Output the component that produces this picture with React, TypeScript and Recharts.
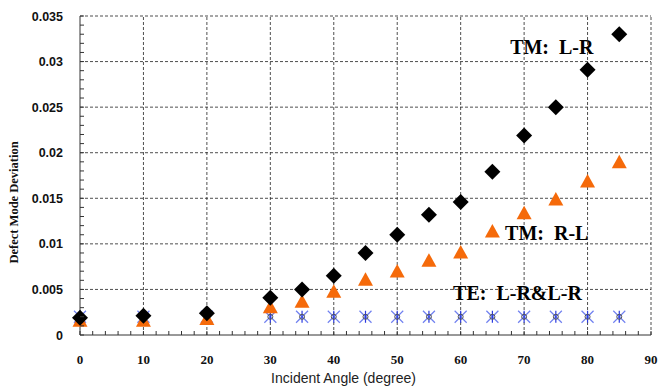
import { ScatterChart, Scatter, XAxis, YAxis, ReferenceLine, ReferenceDot } from 'recharts';

// incident angles (degree)
const angles = [0, 10, 20, 30, 35, 40, 45, 50, 55, 60, 65, 70, 75, 80, 85];
// TM: L-R (black diamonds)
const tmLR = [0.0019, 0.0021, 0.0024, 0.0041, 0.005, 0.0065, 0.009, 0.011, 0.0132, 0.0146, 0.0179, 0.0219, 0.025, 0.0291, 0.033];
// TM: R-L (orange triangles)
const tmRL = [0.0015, 0.0015, 0.0017, 0.003, 0.0036, 0.0047, 0.006, 0.0069, 0.0081, 0.009, 0.0113, 0.0133, 0.0148, 0.0168, 0.0189];
// TE: L-R & L-R (blue asterisks)
const teLR = [0.002, 0.002, 0.002, 0.002, 0.002, 0.002, 0.002, 0.002, 0.002, 0.002, 0.002, 0.002, 0.002, 0.002, 0.002];

const xMajor = [0, 10, 20, 30, 40, 50, 60, 70, 80, 90];
const yMajor = [0, 0.005, 0.01, 0.015, 0.02, 0.025, 0.03, 0.035];
const yMajorLabels = ['0', '0.005', '0.01', '0.015', '0.02', '0.025', '0.03', '0.035'];
// minor tick marks: every 2 degrees / every 0.001
const xMinor = Array.from({ length: 46 }, (_, i) => i * 2);
const yMinor = Array.from({ length: 36 }, (_, i) => i / 1000);

const toPoints = (ys: number[]) => angles.map((x, i) => ({ x, y: ys[i] }));

const Diamond = ({ cx, cy }: any) => (
  <polygon points={`${cx},${cy - 8} ${cx + 8},${cy} ${cx},${cy + 8} ${cx - 8},${cy}`} fill="#000" />
);

const Triangle = ({ cx, cy }: any) => (
  <polygon points={`${cx},${cy - 8} ${cx + 7.5},${cy + 5.5} ${cx - 7.5},${cy + 5.5}`} fill="#f56a0a" />
);

const Asterisk = ({ cx, cy }: any) => (
  <g>
    <line x1={cx - 6} y1={cy - 6} x2={cx + 6} y2={cy + 6} stroke="#7080f0" strokeWidth={1.2} />
    <line x1={cx - 6} y1={cy + 6} x2={cx + 6} y2={cy - 6} stroke="#7080f0" strokeWidth={1.2} />
    <line x1={cx} y1={cy - 6} x2={cx} y2={cy + 6} stroke="#2a3ae0" strokeWidth={1.2} />
    <circle cx={cx} cy={cy} r={2.5} fill="none" stroke="#555" strokeWidth={1} />
  </g>
);

const XTick = ({ x, y, payload }: any) => {
  const major = payload.value % 10 === 0;
  return (
    <g>
      <line x1={x} y1={y} x2={x} y2={y - 4} stroke="#333" />
      {major && (
        <text x={x} y={y + 29} textAnchor="middle" fontFamily="Liberation Serif" fontWeight="bold" fontSize={13} fill="#111">
          {payload.value}
        </text>
      )}
    </g>
  );
};

const YTick = ({ x, y, payload }: any) => {
  const idx = yMajor.findIndex((v) => Math.abs(v - payload.value) < 1e-7);
  return (
    <g>
      <line x1={x} y1={y} x2={x + 4} y2={y} stroke="#333" />
      {idx >= 0 && (
        <text x={x - 17} y={y + 4.5} textAnchor="end" fontFamily="Liberation Sans" fontWeight="bold" fontSize={12.5} fill="#111">
          {yMajorLabels[idx]}
        </text>
      )}
    </g>
  );
};

const note = (text: string, anchor: 'start' | 'middle') => ({ viewBox }: any) => (
  <text
    x={viewBox.x + viewBox.width / 2}
    y={viewBox.y + viewBox.height / 2 + 7}
    textAnchor={anchor}
    fontFamily="Liberation Serif"
    fontWeight="bold"
    fontSize={20}
    fill="#000"
    style={{ whiteSpace: 'pre' }}
  >
    {text}
  </text>
);

export default function App() {
  return (
    <div style={{ position: 'absolute', left: 0, top: 0, width: 671, height: 388, background: '#fff' }}>
      <ScatterChart width={671} height={388} margin={{ top: 16, right: 20, bottom: 0, left: 0 }}>
        <XAxis
          type="number"
          dataKey="x"
          domain={[0, 90]}
          ticks={xMinor}
          interval={0}
          height={53}
          tickSize={0}
          tickMargin={0}
          tickLine={false}
          tick={<XTick />}
          axisLine={{ stroke: '#333' }}
          label={{ value: 'Incident Angle (degree)', position: 'insideBottom', offset: 5, dx: -22, fontFamily: 'Liberation Sans', fontSize: 14, fill: '#222' }}
        />
        <YAxis
          type="number"
          dataKey="y"
          domain={[0, 0.035]}
          ticks={yMinor}
          interval={0}
          width={80}
          tickSize={0}
          tickMargin={0}
          tickLine={false}
          tick={<YTick />}
          axisLine={{ stroke: '#333' }}
          label={{ value: 'Defect Mode Deviation', angle: -90, position: 'insideLeft', offset: 14, dy: 88, fontFamily: 'Liberation Serif', fontWeight: 'bold', fontSize: 12.5, fill: '#111' }}
        />
        {xMajor.slice(1).map((v) => (
          <ReferenceLine key={`x${v}`} x={v} stroke="#222" strokeDasharray="3 2" strokeWidth={0.8} />
        ))}
        {yMajor.slice(1).map((v) => (
          <ReferenceLine key={`y${v}`} y={v} stroke="#222" strokeDasharray="3 2" strokeWidth={0.8} />
        ))}
        <Scatter name="TE: L-R&L-R" data={toPoints(teLR)} shape={<Asterisk />} isAnimationActive={false} />
        <Scatter name="TM: R-L" data={toPoints(tmRL)} shape={<Triangle />} isAnimationActive={false} />
        <Scatter name="TM: L-R" data={toPoints(tmLR)} shape={<Diamond />} isAnimationActive={false} />
        <ReferenceDot x={67.8} y={0.0316} r={0} fill="none" stroke="none" label={note('TM:  L-R', 'start')} />
        <ReferenceDot x={67} y={0.0112} r={0} fill="none" stroke="none" label={note('TM:  R-L', 'start')} />
        <ReferenceDot x={58.8} y={0.0046} r={0} fill="none" stroke="none" label={note('TE:  L-R&L-R', 'start')} />
      </ScatterChart>
    </div>
  );
}
